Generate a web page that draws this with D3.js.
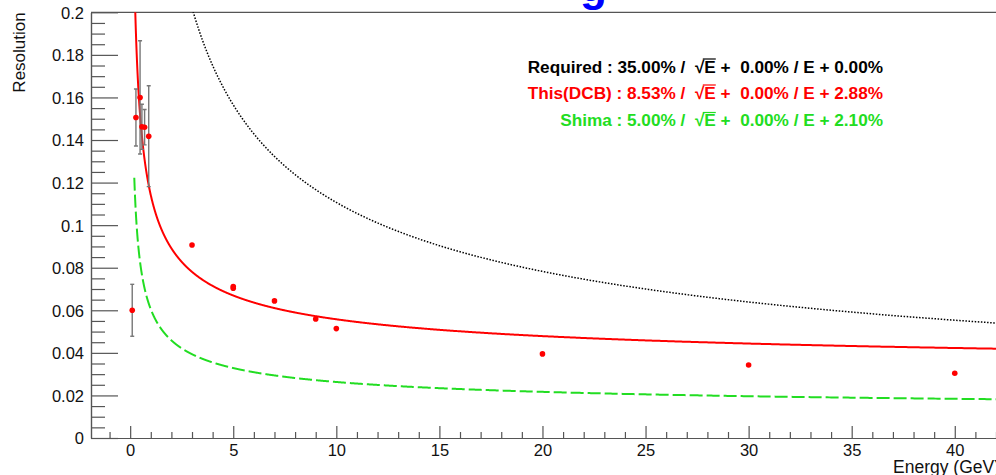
<!DOCTYPE html>
<html>
<head>
<meta charset="utf-8">
<script src="https://cdn.jsdelivr.net/npm/d3@7"></script>
<style>
  html, body { margin: 0; padding: 0; background: #fff; }
  svg { display: block; font-family: "Liberation Sans", Arial, Helvetica, sans-serif; }
  .legend text { white-space: pre; }
</style>
</head>
<body>
<svg id="chart" width="996" height="475"></svg>
<script>
// Measured points: beam energy (GeV), resolution, and symmetric error
const energies    = [0.1, 0.28, 0.48, 0.57, 0.70, 0.90, 3, 5, 5, 7, 9, 10, 20, 30, 40];
const resolutions = [0.0600, 0.1506, 0.1600, 0.1462, 0.1460, 0.1418, 0.0907, 0.0712, 0.0704, 0.0644, 0.0559, 0.0514, 0.0395, 0.0343, 0.0304];
const errors      = [0.0122, 0.0134, 0.0266, 0.0106, 0.0083, 0.0237, 0, 0, 0, 0, 0, 0, 0, 0, 0];

// Resolution curves  sigma/E = a/sqrt(E) + b/E + c
const curveNames    = ["Required", "This(DCB)", "Shima"];
const curveStoch    = [0.35, 0.0853, 0.05];
const curveNoise    = [0.0, 0.0, 0.0];
const curveConst    = [0.0, 0.0288, 0.0105];
const curveColors   = ["#000000", "#ff0000", "#22dd22"];
const curveDash     = ["1.5,1.6", null, "13,4"];
const curveWidth    = [1.5, 2, 2];
const curveRange    = [0.2, 42];

// Legend label values
const legendStoch = ["35.00%", "8.53%", "5.00%"];
const legendNoise = ["0.00%", "0.00%", "0.00%"];
const legendConst = ["0.00%", "2.88%", "2.10%"];

// Axes
const xDomain = [-1.9, 42];
const yDomain = [0, 0.2];
const xMajorTicks = [0, 5, 10, 15, 20, 25, 30, 35, 40];
const yMajorTicks = [0, 0.02, 0.04, 0.06, 0.08, 0.1, 0.12, 0.14, 0.16, 0.18, 0.2];
const yTickLabels = ["0", "0.02", "0.04", "0.06", "0.08", "0.1", "0.12", "0.14", "0.16", "0.18", "0.2"];
const xTitle = "Energy (GeV)";
const yTitle = "Resolution";
const titleGlyph = "g";

const svg = d3.select("#chart");
const frameL = 91, frameR = 996, frameT = 12.3, frameB = 438;

const x = d3.scaleLinear().domain(xDomain).range([frameL, frameR]);
const y = d3.scaleLinear().domain(yDomain).range([frameB, frameT]);

const axisColor = "#555";
const labelFont = "Liberation Sans, Arial, sans-serif";

// Title (only the descender lies inside the canvas)
svg.append("text")
  .attr("x", 580).attr("y", 0.5)
  .attr("font-size", 44).attr("font-weight", "bold")
  .attr("fill", "#0000ff")
  .text(titleGlyph);

// Top frame line
svg.append("line").attr("x1", frameL).attr("x2", frameR).attr("y1", frameT).attr("y2", frameT)
  .attr("stroke", axisColor).attr("stroke-width", 1.2);

// X axis (ticks pointing into the plot)
const xMinor = d3.range(Math.ceil(xDomain[0]), Math.floor(xDomain[1]) + 1).filter(v => v % 5 !== 0);
const xAxisMajor = d3.axisBottom(x).tickValues(xMajorTicks).tickSizeInner(-12).tickSizeOuter(0).tickFormat(d3.format("d"));
const xAxisMinor = d3.axisBottom(x).tickValues(xMinor).tickSizeInner(-6).tickSizeOuter(0).tickFormat("");
const gxMinor = svg.append("g").attr("transform", `translate(0,${frameB})`).call(xAxisMinor);
const gx = svg.append("g").attr("transform", `translate(0,${frameB})`).call(xAxisMajor);
[gx, gxMinor].forEach(g => {
  g.select(".domain").attr("stroke", axisColor).attr("stroke-width", 1.2);
  g.selectAll(".tick line").attr("stroke", axisColor).attr("stroke-width", 1.2);
});
gx.selectAll(".tick text")
  .attr("y", 18).attr("dy", 0)
  .attr("font-size", 16.5).attr("fill", "#111")
  .attr("font-family", labelFont);

// Y axis (long ticks pointing into the plot)
const yMinor = d3.range(0, 41).map(i => i * 0.005).filter((v, i) => i % 4 !== 0);
const yAxisMajor = d3.axisLeft(y).tickValues(yMajorTicks).tickSizeInner(-27).tickSizeOuter(0)
  .tickFormat((d, i) => yTickLabels[i]);
const yAxisMinor = d3.axisLeft(y).tickValues(yMinor).tickSizeInner(-14).tickSizeOuter(0).tickFormat("");
const gyMinor = svg.append("g").attr("transform", `translate(${frameL},0)`).call(yAxisMinor);
const gy = svg.append("g").attr("transform", `translate(${frameL},0)`).call(yAxisMajor);
[gy, gyMinor].forEach(g => {
  g.select(".domain").attr("stroke", axisColor).attr("stroke-width", 1.2);
  g.selectAll(".tick line").attr("stroke", axisColor).attr("stroke-width", 1.2);
});
gy.selectAll(".tick text")
  .attr("x", -7).attr("dy", "0.36em")
  .attr("font-size", 16.5).attr("fill", "#111")
  .attr("font-family", labelFont);

// Axis titles
svg.append("text")
  .attr("transform", `translate(25,${frameT}) rotate(-90)`)
  .attr("text-anchor", "end")
  .attr("font-size", 17).attr("fill", "#111")
  .text(yTitle);
svg.append("text")
  .attr("x", 893).attr("y", 473)
  .attr("font-size", 17.5).attr("fill", "#111")
  .text(xTitle);

// Clip region for curves and markers
svg.append("clipPath").attr("id", "plotClip")
  .append("rect").attr("x", frameL).attr("y", frameT).attr("width", frameR - frameL).attr("height", frameB - frameT);
const plot = svg.append("g").attr("clip-path", "url(#plotClip)");

// Curves
const eGrid = d3.range(0, 2001).map(i => curveRange[0] * Math.pow(curveRange[1] / curveRange[0], i / 2000));
const line = d3.line().x(d => x(d[0])).y(d => y(d[1]));
curveNames.forEach((name, k) => {
  const curvePts = eGrid.map(e => [e, curveStoch[k] / Math.sqrt(e) + curveNoise[k] / e + curveConst[k]]);
  plot.append("path")
    .datum(curvePts)
    .attr("d", line)
    .attr("fill", "none")
    .attr("stroke", curveColors[k])
    .attr("stroke-width", curveWidth[k])
    .attr("stroke-dasharray", curveDash[k]);
});

// Error bars
const points = energies.map((e, i) => ({ e, r: resolutions[i], err: errors[i] }));
const eb = plot.append("g").attr("stroke", "#777").attr("stroke-width", 1.4);
points.filter(p => p.err > 0).forEach(p => {
  const cx = x(p.e);
  eb.append("line").attr("x1", cx).attr("x2", cx).attr("y1", y(p.r + p.err)).attr("y2", y(p.r - p.err));
  eb.append("line").attr("x1", cx - 2).attr("x2", cx + 2).attr("y1", y(p.r + p.err)).attr("y2", y(p.r + p.err));
  eb.append("line").attr("x1", cx - 2).attr("x2", cx + 2).attr("y1", y(p.r - p.err)).attr("y2", y(p.r - p.err));
});

// Markers
plot.append("g").selectAll("circle").data(points).join("circle")
  .attr("cx", d => x(d.e)).attr("cy", d => y(d.r)).attr("r", 2.8)
  .attr("fill", "#ff0000");

// Legend: "<name> : a% /  sqrt(E) +  b% / E + c%"
const legend = svg.append("g").attr("class", "legend")
  .attr("font-size", 17.2).attr("font-weight", "bold");
const legendBase = [72.5, 98.5, 126];
curveNames.forEach((name, k) => {
  const t = legend.append("text")
    .attr("x", 883).attr("y", legendBase[k])
    .attr("text-anchor", "end")
    .attr("fill", curveColors[k]);
  const head = `${name} : ${legendStoch[k]} /  `;
  t.append("tspan").text(head);
  t.append("tspan").text("\u221A");
  t.append("tspan").text("E");
  t.append("tspan").text(` +  ${legendNoise[k]} / E + ${legendConst[k]}`);
  // overline of the square root across E
  const node = t.node();
  const eIdx = head.length + 1;
  const ext = node.getExtentOfChar(eIdx);
  const rootExt = node.getExtentOfChar(eIdx - 1);
  const yLine = legendBase[k] - 13.5;
  legend.append("line")
    .attr("x1", rootExt.x + rootExt.width - 1.5).attr("x2", ext.x + ext.width)
    .attr("y1", yLine).attr("y2", yLine)
    .attr("stroke", curveColors[k]).attr("stroke-width", 1.2);
});
</script>
</body>
</html>
